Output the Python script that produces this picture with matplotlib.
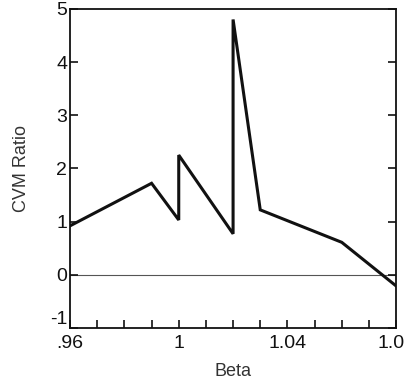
import matplotlib
matplotlib.use("Agg")
import matplotlib.pyplot as plt

# CVM ratio vs beta
beta = [0.96, 0.99, 1.0, 1.0, 1.02, 1.02, 1.03, 1.06, 1.08]
cvm_ratio = [0.92, 1.72, 1.03, 2.25, 0.77, 4.8, 1.22, 0.61, -0.21]

x_ticks = [0.96, 0.97, 0.98, 0.99, 1.0, 1.01, 1.02, 1.03, 1.04, 1.05, 1.06, 1.07, 1.08]
x_labels = ['.96', '', '', '', '1', '', '', '', '1.04', '', '', '', '1.08']
y_ticks = [-1, 0, 1, 2, 3, 4, 5]
y_labels = ['-1', '0', '1', '2', '3', '4', '5']

plt.rcParams['font.family'] = ['Liberation Sans', 'DejaVu Sans']

fig = plt.figure(figsize=(4.05, 3.84), dpi=100)
ax = fig.add_axes([0.173, 0.146, 0.805, 0.831])

ax.axhline(0, color='#555555', lw=0.8, zorder=1)
ax.plot(beta, cvm_ratio, color='#111111', lw=2.2, solid_joinstyle='miter', zorder=3)

ax.set_xlim(0.96, 1.08)
ax.set_ylim(-1, 5)
ax.set_xticks(x_ticks)
ax.set_xticklabels(x_labels, fontsize=14)
ax.set_yticks(y_ticks)
ax.set_yticklabels(y_labels, fontsize=14)
ax.tick_params(axis='both', direction='in', length=6, width=1.2, colors='#111111')
ax.tick_params(axis='x', pad=5)
ax.tick_params(axis='y', right=True, pad=2)
# the -1 label sits just above the bottom spine in the original
ax.get_yticklabels()[0].set_va('bottom')

for s in ax.spines.values():
    s.set_linewidth(1.3)
    s.set_color('#111111')

ax.set_xlabel('Beta', fontsize=13, color='#333333', labelpad=8)
ax.set_ylabel('CVM Ratio', fontsize=13, color='#333333', labelpad=14)

fig.savefig('out.png', dpi=100)
